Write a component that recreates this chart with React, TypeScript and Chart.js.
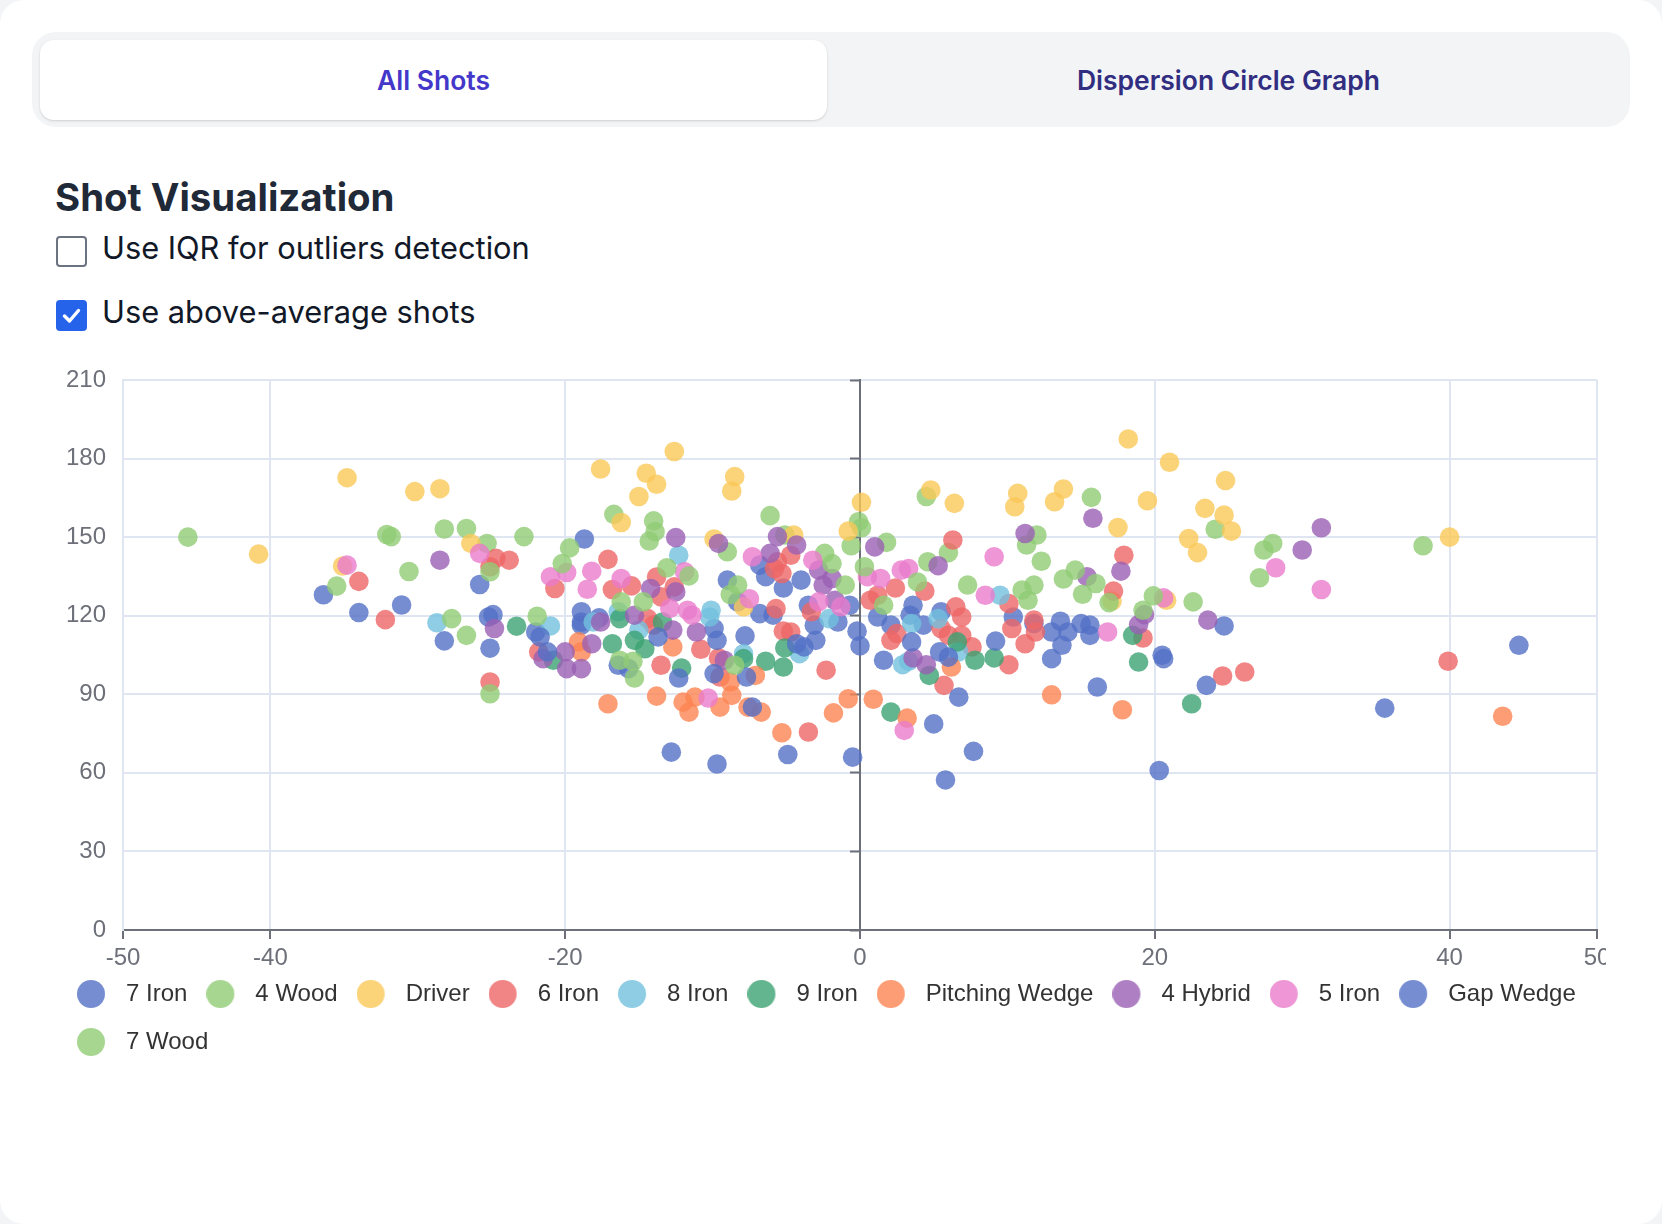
import React, { useEffect, useRef } from "react";
import { Chart, registerables } from "chart.js";

Chart.register(...registerables);

// ---------- data ----------
const seriesNames = ["7 Iron", "4 Wood", "Driver", "6 Iron", "8 Iron", "9 Iron", "Pitching Wedge", "4 Hybrid", "5 Iron", "Gap Wedge", "7 Wood"];
const seriesColors = ["#5470c6", "#91cc75", "#fac858", "#ee6666", "#73c0de", "#3ba272", "#fc8452", "#9a60b4", "#ea7ccc", "#5470c6", "#91cc75"];

const xTickValues = [-50, -40, -20, 0, 20, 40, 50];
const yTickStep = 30;
const yMaxValue = 210;

const iron7 = [[-36.4,128.0],[-34.0,121.2],[-31.1,124.1],[-25.8,131.9],[-24.9,120.4],[-25.2,119.5],[-22.0,113.8],[-18.9,121.5],[-18.9,117.6],[-18.9,116.4],[-17.7,119.2],[-18.7,149.3],[-9.9,115.1],[-7.8,112.3],[-9.0,133.6],[-8.3,125.3],[-6.8,139.3],[-6.4,134.9],[-5.2,130.6],[-4.0,133.6],[-6.8,120.8],[-5.9,120.2],[-3.1,116.4],[-3.5,124.0],[-1.5,117.6],[-0.7,124.0],[-0.2,114.1],[1.2,119.5],[2.1,116.4],[3.6,124.0],[3.4,120.2],[4.3,116.4],[5.5,121.5],[10.4,119.5],[11.8,117.0],[13.6,117.9],[14.1,113.8],[15.0,117.0],[15.6,116.4],[15.6,112.5],[13.0,113.8],[24.7,116.1]];
const wood4 = [[-45.6,150.0],[-32.1,151.0],[-31.8,150.2],[-28.2,153.1],[-26.7,153.3],[-25.3,147.6],[-22.8,150.2],[-19.7,145.9],[-16.7,158.7],[-14.0,156.2],[-13.9,152.1],[-14.3,148.5],[-9.0,144.4],[-6.1,158.2],[-5.1,150.8],[-2.4,143.8],[-0.1,155.9],[0.1,153.6],[-0.6,146.7],[1.8,148.0],[4.5,165.5],[6.0,144.1],[11.3,147.0],[12.0,150.8],[15.7,165.2],[24.1,153.0],[27.4,145.1],[28.0,147.6],[38.2,146.7],[4.6,140.6],[12.3,140.8]];
const driver = [[-40.8,143.5],[-34.8,172.7],[-30.2,167.4],[-28.5,168.5],[-26.4,147.6],[-35.1,139.0],[-17.6,176.0],[-12.6,182.7],[-14.5,174.4],[-13.8,170.2],[-15.0,165.5],[-8.5,173.1],[-8.7,167.6],[-16.2,155.6],[-9.9,149.3],[-7.9,123.4],[-4.5,150.8],[0.1,163.3],[-0.8,152.3],[4.8,168.0],[6.4,162.9],[10.7,166.7],[10.5,161.6],[18.2,187.5],[21.0,178.6],[24.8,171.6],[13.8,168.4],[13.2,163.5],[19.5,163.9],[17.5,153.7],[23.4,161.0],[24.7,158.4],[25.2,152.3],[22.3,149.5],[22.9,144.1],[17.1,125.6],[20.8,125.9],[40.0,150.0]];
const iron6 = [[-34.0,133.1],[-32.2,118.5],[-24.7,141.9],[-25.1,138.7],[-25.1,94.7],[-23.8,141.2],[-21.8,106.2],[-20.7,130.4],[-17.1,141.5],[-13.8,134.8],[-16.8,130.0],[-15.5,131.4],[-13.5,127.2],[-12.6,131.0],[-14.4,118.9],[-14.0,116.4],[-10.8,107.2],[-13.5,101.1],[-9.6,103.9],[-9.5,96.6],[-5.6,140.6],[-5.3,136.1],[-5.8,138.0],[-4.7,143.1],[-5.7,122.7],[-5.2,114.1],[-4.7,113.8],[-3.3,121.5],[-2.3,99.2],[-3.5,75.6],[0.7,125.9],[1.2,127.8],[2.4,130.6],[4.4,129.4],[6.3,148.9],[10.1,124.6],[2.1,110.6],[2.5,113.2],[5.5,115.1],[6.0,112.5],[6.5,123.4],[6.9,119.5],[6.9,112.5],[7.6,108.1],[10.1,101.3],[10.3,115.1],[5.7,93.4],[11.8,118.3],[11.9,113.8],[11.2,109.3],[17.9,143.1],[17.2,129.4],[19.2,111.5],[24.6,97.0],[26.1,98.5],[39.9,102.6]];
const iron8 = [[-28.7,117.3],[-21.0,116.1],[-18.1,117.6],[-12.3,143.1],[-10.1,122.1],[-10.2,119.5],[-16.4,121.5],[-15.0,114.5],[-7.9,105.5],[-4.1,105.5],[-2.1,118.9],[3.5,117.0],[2.9,101.3],[3.3,102.6],[5.3,118.9],[6.7,106.2],[9.5,127.8]];
const iron9 = [[-23.3,116.0],[-20.8,103.0],[-16.3,118.9],[-13.4,117.6],[-16.8,109.3],[-15.3,110.6],[-14.6,107.4],[-12.1,100.0],[-7.9,103.6],[-6.4,102.6],[-5.2,100.4],[-5.1,107.7],[4.7,97.2],[6.6,110.0],[7.8,103.0],[9.1,103.9],[2.1,83.2],[18.5,112.5],[18.9,102.3],[22.5,86.4]];
const pitchingWedge = [[-19.1,110.0],[-18.9,106.2],[-12.7,108.1],[-17.1,86.4],[-13.8,89.3],[-12.0,87.0],[-11.6,83.2],[-11.2,88.9],[-9.5,85.1],[-8.8,94.7],[-8.7,89.6],[-7.6,85.1],[-7.1,97.2],[-6.7,83.2],[-5.3,75.3],[-1.8,82.9],[-0.8,88.3],[0.9,88.1],[3.2,80.9],[6.2,100.4],[13.0,89.8],[17.8,84.1],[43.6,81.6]];
const hybrid4 = [[-28.5,141.2],[-24.8,115.1],[-21.5,103.6],[-20.0,106.2],[-19.9,99.8],[-18.9,99.8],[-18.2,109.3],[-17.6,117.6],[-12.5,149.8],[-9.6,147.6],[-14.2,130.4],[-12.5,129.1],[-15.3,120.2],[-12.7,114.5],[-11.1,113.8],[-9.2,103.0],[-5.6,150.2],[-4.3,147.0],[-6.1,143.8],[-2.8,137.4],[-2.5,131.7],[-1.9,134.2],[-1.7,125.9],[1.0,146.3],[5.3,139.1],[3.6,103.9],[4.5,101.3],[11.2,151.4],[15.8,157.2],[17.7,137.0],[15.4,134.9],[19.3,120.4],[18.9,116.6],[23.6,118.3],[30.0,145.1],[31.3,153.6]];
const iron5 = [[-25.8,143.8],[-34.8,139.3],[-21.0,134.9],[-19.9,136.5],[-18.2,137.0],[-18.5,130.1],[-16.2,134.2],[-11.9,136.8],[-7.3,142.5],[-7.5,126.5],[-12.9,122.8],[-11.7,122.1],[-11.4,120.2],[-10.3,88.6],[-3.2,141.2],[-2.8,125.3],[-1.3,123.4],[0.5,134.9],[1.4,134.2],[2.8,137.4],[3.3,138.0],[9.1,142.5],[8.5,127.8],[3.0,76.2],[16.8,113.8],[20.6,126.8],[28.2,138.3],[31.3,130.0]];
const gapWedge = [[-28.2,110.4],[-25.1,107.6],[-21.7,111.9],[-21.2,106.2],[-13.7,111.9],[-9.7,110.6],[-16.4,101.1],[-15.7,99.8],[-12.3,96.2],[-9.9,97.9],[-7.7,96.6],[-7.3,85.1],[-12.8,67.9],[-9.7,63.4],[-4.3,109.3],[-3.8,108.1],[-3.0,110.6],[0.0,108.5],[-4.9,67.0],[-0.5,66.0],[3.5,110.0],[1.6,103.0],[5.4,106.2],[6.0,104.2],[9.2,110.3],[6.7,88.9],[5.0,78.7],[7.7,68.2],[5.8,57.3],[13.7,108.7],[13.0,103.6],[16.1,92.8],[20.5,104.9],[20.6,103.6],[23.5,93.4],[20.3,60.9],[44.7,108.7],[35.6,84.7]];
const wood7 = [[-25.1,136.8],[-35.5,131.3],[-30.6,136.9],[-27.7,118.9],[-26.7,112.5],[-25.1,90.2],[-21.9,119.8],[-20.2,139.9],[-13.1,138.3],[-11.6,135.2],[-16.2,125.3],[-14.7,125.3],[-8.3,131.7],[-8.8,128.1],[-16.3,103.0],[-15.4,102.6],[-15.3,96.2],[-8.5,101.1],[-1.9,139.9],[-1.0,131.7],[0.3,138.7],[1.6,124.0],[3.9,132.9],[7.3,131.7],[14.6,137.4],[13.8,134.0],[16.0,132.3],[15.1,128.2],[11.0,129.8],[11.8,131.7],[11.4,125.9],[16.9,125.0],[19.9,127.6],[22.6,125.3],[19.2,122.1],[27.1,134.5]];

const seriesData = [iron7, wood4, driver, iron6, iron8, iron9, pitchingWedge, hybrid4, iron5, gapWedge, wood7];

// ---------- helpers ----------
function rgba(hex: string, a: number) {
  const n = parseInt(hex.slice(1), 16);
  return `rgba(${(n >> 16) & 255}, ${(n >> 8) & 255}, ${n & 255}, ${a})`;
}

function legendIcon(color: string) {
  const c = document.createElement("canvas");
  c.width = 42;
  c.height = 28;
  const ctx = c.getContext("2d")!;
  ctx.fillStyle = color;
  ctx.beginPath();
  ctx.arc(14, 14, 14, 0, Math.PI * 2);
  ctx.fill();
  return c;
}

const AXIS = "#6e7079";
const GRID = "#e0e6f1";

function ShotChart() {
  const ref = useRef<HTMLCanvasElement | null>(null);
  useEffect(() => {
    if (!ref.current) return;
    Chart.defaults.font.family = "'Liberation Sans', Arial, Helvetica, sans-serif";
    const icons = seriesColors.map((c) => legendIcon(rgba(c, 0.8)));
    const chart = new Chart(ref.current, {
      type: "scatter",
      data: {
        datasets: seriesNames.map((name, i) => ({
          label: name,
          data: seriesData[i].map(([x, y]) => ({ x, y })),
          backgroundColor: rgba(seriesColors[i], 0.8),
          borderWidth: 0,
          pointRadius: 9.8,
          pointHoverRadius: 9.8,
          order: -i,
        })),
      },
      options: {
        responsive: false,
        animation: false,
        devicePixelRatio: 1,
        layout: { padding: { left: 18, top: 20, right: 0, bottom: 0 } },
        plugins: {
          tooltip: { enabled: false },
          legend: {
            position: "bottom",
            align: "start",
            labels: {
              usePointStyle: true,
              pointStyleWidth: 32,
              padding: 24,
              color: "#333",
              font: { size: 24 },
              sort: (a: any, b: any) => a.datasetIndex - b.datasetIndex,
              generateLabels: (ch: any) => {
                const items = (Chart.defaults.plugins.legend.labels as any).generateLabels(ch);
                return items.map((it: any) => ({ ...it, pointStyle: icons[it.datasetIndex], lineWidth: 0 }));
              },
            },
          },
        },
        scales: {
          x: {
            type: "linear",
            min: -50,
            max: 50,
            afterBuildTicks: (s: any) => {
              s.ticks = xTickValues.map((v) => ({ value: v }));
            },
            afterFit: (s: any) => {
              s.height = 28;
              s.paddingLeft = 0;
              s.paddingRight = 43;
              // let the tick labels draw below the (shortened) axis box
              s._computeLabelArea = () => undefined;
            },
            grid: { color: GRID, lineWidth: 2, drawTicks: true, tickLength: 9, tickColor: AXIS, tickWidth: 2 },
            border: { color: AXIS, width: 2 },
            ticks: { color: AXIS, font: { size: 24 }, padding: 5, autoSkip: false, maxRotation: 0 },
          },
          y: {
            type: "linear",
            position: "left",
            min: 0,
            max: yMaxValue,
            afterFit: (s: any) => {
              s.width = 65;
              s.paddingTop = 0;
              s.paddingBottom = 0;
            },
            ticks: { stepSize: yTickStep, color: AXIS, font: { size: 24 }, padding: 17 },
            grid: { color: GRID, lineWidth: 2, drawTicks: false },
            border: { color: GRID, width: 2 },
          },
          y2: {
            type: "linear",
            position: { x: 0 } as any,
            min: 0,
            max: yMaxValue,
            ticks: { stepSize: yTickStep, display: false },
            grid: { drawOnChartArea: false, drawTicks: true, tickLength: 9, tickColor: AXIS, tickWidth: 2 },
            border: { color: AXIS, width: 2 },
          },
        },
      } as any,
    });
    return () => chart.destroy();
  }, []);
  return (
    <div style={{ position: "absolute", left: 40, top: 360, width: 1566, height: 704, overflow: "hidden" }}>
      <canvas ref={ref} width={1600} height={704} style={{ display: "block", width: 1600, height: 704 }} />
    </div>
  );
}

export default function App() {
  const ui = "Inter, 'Noto Sans', sans-serif";
  return (
    <div style={{ position: "fixed", inset: 0, background: "#f3f4f6", fontFamily: ui }}>
      <div style={{ position: "absolute", left: 0, top: 0, width: 1662, height: 1224, background: "#ffffff", borderRadius: 24 }}>
        <div style={{ position: "absolute", left: 32, top: 32, width: 1598, height: 95, background: "#f3f4f6", borderRadius: 24 }} />
        <div
          style={{
            position: "absolute", left: 40, top: 40, width: 787, height: 80, background: "#fff", borderRadius: 14,
            boxShadow: "0 1px 3px rgba(0,0,0,0.10), 0 1px 2px rgba(0,0,0,0.06)",
            display: "flex", alignItems: "center", justifyContent: "center",
            fontSize: 26.5, fontWeight: 600, color: "#4338ca",
          }}
        >
          All Shots
        </div>
        <div
          style={{
            position: "absolute", left: 835, top: 40, width: 787, height: 80,
            display: "flex", alignItems: "center", justifyContent: "center",
            fontSize: 26.5, fontWeight: 600, color: "#312e81",
          }}
        >
          Dispersion Circle Graph
        </div>
        <div style={{ position: "absolute", left: 55, top: 178, fontSize: 38.4, lineHeight: 1, fontWeight: 700, color: "#1f2937", whiteSpace: "nowrap" }}>
          Shot Visualization
        </div>
        <div style={{ position: "absolute", left: 56, top: 236, width: 31, height: 31, boxSizing: "border-box", border: "2px solid #6b7280", borderRadius: 4, background: "#fff" }} />
        <div style={{ position: "absolute", left: 102, top: 233, fontSize: 30.8, lineHeight: 1, color: "#111827", whiteSpace: "nowrap" }}>
          Use IQR for outliers detection
        </div>
        <div style={{ position: "absolute", left: 56, top: 300, width: 31, height: 31, borderRadius: 4, background: "#2563eb" }}>
          <svg width="31" height="31" viewBox="0 0 31 31" style={{ display: "block" }}>
            <path d="M8.5 16 L13.5 21 L22.5 10.5" fill="none" stroke="#fff" strokeWidth="3.4" strokeLinecap="round" strokeLinejoin="round" />
          </svg>
        </div>
        <div style={{ position: "absolute", left: 102, top: 297, fontSize: 30.8, lineHeight: 1, color: "#111827", whiteSpace: "nowrap" }}>
          Use above-average shots
        </div>
        <ShotChart />
      </div>
    </div>
  );
}
